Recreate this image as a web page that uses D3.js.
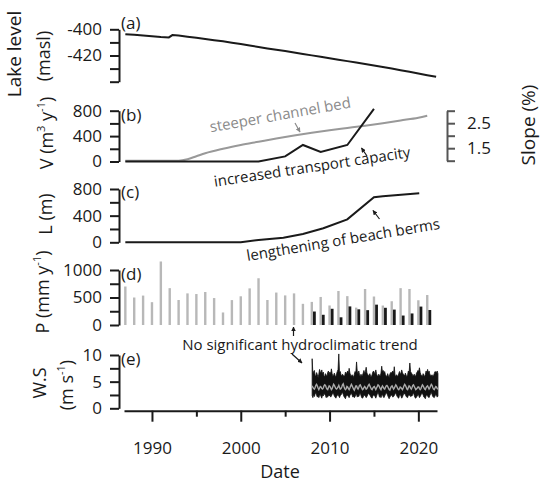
<!DOCTYPE html>
<html><head><meta charset="utf-8">
<script src="https://cdn.jsdelivr.net/npm/d3@7/dist/d3.min.js"></script>
<style>body{margin:0;background:#fff}svg{display:block}</style>
</head><body><svg id="c" width="542" height="484"></svg>
<script>
// ---------- data ----------
const lakeYears=[1987,1988,1989,1990,1991,1991.9,1992.3,1993,1994,1995,1996,1997,1998,1999,2000,2001,2002,2003,2004,2005,2006,2007,2008,2009,2010,2011,2012,2013,2014,2015,2016,2017,2018,2019,2020,2021,2022];
const lakeLevel=[-403.8,-404.2,-404.8,-405.3,-405.9,-406.2,-404.4,-404.8,-405.6,-406.5,-407.4,-408.3,-409.2,-410.2,-411.3,-412.4,-413.5,-414.6,-415.6,-416.6,-417.7,-418.8,-419.9,-421.0,-422.1,-423.2,-424.3,-425.4,-426.5,-427.6,-428.7,-430.0,-431.2,-432.4,-433.7,-435.0,-436.3];
const vYears=[1987,2002,2005,2007,2009,2012,2015];
const vValues=[0,0,80,260,150,260,830];
const slopeYears=[1987,1993,1994,1995,1996,1998,2000,2002,2004,2006,2008,2010,2012,2014,2016,2018,2020,2021];
const slopeValues=[1.0,1.0,1.06,1.18,1.3,1.48,1.63,1.76,1.89,2.01,2.12,2.22,2.31,2.4,2.5,2.61,2.72,2.8];
const lYears=[1987,2000,2002,2004.8,2007,2009.3,2012,2015,2016,2020.1];
const lValues=[0,0,35,70,125,210,345,675,690,735];
const pYears=[1987,1988,1989,1990,1991,1992,1993,1994,1995,1996,1997,1998,1999,2000,2001,2002,2003,2004,2005,2006,2007,2008,2009,2010,2011,2012,2013,2014,2015,2016,2017,2018,2019,2020,2021];
const pGray=[700,500,535,415,1155,670,455,575,563,600,490,228,453,522,666,850,455,590,538,575,385,420,510,355,618,525,316,655,518,354,432,670,655,450,545];
const pBlackYears=[2008,2009,2010,2011,2012,2013,2014,2015,2016,2017,2018,2019,2020,2021];
const pBlack=[245,186,295,140,338,285,270,370,313,280,172,210,335,273];
const wsStartYear=2008;
const wsMax=[
9.3,6.4,6.9,7.1,6.2,6.0,6.7,6.3,5.8,6.4,7.3,6.8,
6.6,7.2,6.4,6.8,6.1,5.9,6.5,6.2,6.0,6.7,7.0,6.3,
6.8,6.4,7.4,6.5,6.0,6.2,6.6,6.1,5.9,6.5,6.9,7.3,
10.2,6.6,6.9,6.3,6.0,6.4,6.2,6.0,6.1,6.8,6.5,6.7,
7.0,6.5,7.5,6.6,6.2,6.0,6.3,6.1,5.8,6.4,6.9,6.6,
8.7,6.8,6.5,7.0,6.3,5.9,6.4,6.0,6.2,6.6,7.1,6.5,
6.9,7.7,6.6,6.4,6.1,6.2,6.5,6.0,5.9,6.3,6.8,7.0,
6.7,6.4,7.2,6.5,6.0,6.1,6.4,6.2,6.0,6.6,7.9,6.8,
7.1,6.6,6.9,6.3,6.1,5.9,6.5,6.1,5.8,6.4,6.7,6.6,
6.8,7.0,6.5,7.8,6.2,6.0,6.3,6.0,6.1,6.5,6.9,6.4,
6.6,7.2,6.7,6.4,6.3,6.1,6.6,6.2,5.9,6.3,7.0,6.7,
8.5,6.9,6.6,6.5,6.0,6.2,6.4,6.1,6.0,6.6,6.8,7.1,
6.9,7.6,6.7,6.3,6.1,6.0,6.5,6.2,5.9,6.4,7.0,6.6,
7.3,6.6,7.0,6.4,6.2,6.1,6.3,6.0,6.1,6.5,6.9,6.8,
6.7,7.0,6.5];
const wsMin=[
2.4,2.0,2.6,2.2,2.7,2.9,2.5,2.1,2.3,2.0,2.4,2.6,
2.2,1.9,2.5,2.3,2.8,2.6,2.4,2.0,2.2,2.1,2.5,2.3,
2.5,2.1,2.3,2.6,2.9,2.7,2.3,2.1,1.9,2.2,2.4,2.6,
2.3,2.0,2.4,2.5,2.8,3.0,2.6,2.2,2.0,1.8,2.3,2.5,
2.4,2.2,2.0,2.4,2.7,2.8,2.5,2.1,2.3,2.0,2.2,2.6,
2.6,2.1,2.3,2.2,2.6,2.9,2.4,2.0,1.9,2.1,2.5,2.4,
2.3,2.0,2.2,2.5,2.8,2.7,2.5,2.2,2.0,1.9,2.3,2.5,
2.5,2.2,1.9,2.3,2.7,3.0,2.6,2.1,2.2,2.0,2.4,2.6,
2.2,2.0,2.3,2.6,2.9,2.8,2.4,2.1,1.8,2.1,2.3,2.5,
2.4,2.1,2.2,2.4,2.7,2.9,2.5,2.2,2.0,1.9,2.4,2.6,
2.3,1.9,2.1,2.5,2.8,2.7,2.6,2.2,2.1,2.0,2.5,2.4,
2.5,2.2,2.3,2.3,2.7,2.9,2.4,2.0,1.9,2.1,2.3,2.6,
2.4,2.0,2.2,2.5,2.8,2.8,2.5,2.1,2.0,1.8,2.4,2.5,
2.3,2.1,2.0,2.4,2.7,3.0,2.6,2.2,2.1,2.0,2.3,2.6,
2.4,2.1,2.3];
const wsMean=[
4.2,3.9,3.7,3.6,3.9,4.3,4.5,4.2,3.8,3.5,3.8,4.1,
4.0,3.7,3.6,3.8,4.2,4.4,4.3,3.9,3.6,3.5,3.9,4.2,
4.1,3.8,3.5,3.7,4.1,4.5,4.3,4.0,3.7,3.6,3.8,4.0,
4.3,3.9,3.6,3.7,4.0,4.4,4.6,4.1,3.7,3.5,3.7,4.1,
4.0,3.7,3.5,3.8,4.2,4.5,4.2,3.9,3.6,3.4,3.8,4.2,
4.2,3.8,3.6,3.9,4.3,4.4,4.1,3.8,3.5,3.6,3.9,4.1,
3.9,3.6,3.7,4.0,4.3,4.5,4.2,3.9,3.6,3.5,3.8,4.0,
4.1,3.8,3.5,3.8,4.1,4.4,4.3,4.0,3.7,3.5,3.9,4.2,
4.0,3.7,3.6,3.9,4.2,4.3,4.1,3.8,3.5,3.4,3.8,4.1,
4.2,3.9,3.6,3.8,4.1,4.4,4.2,3.9,3.6,3.5,3.7,4.0,
3.9,3.7,3.5,3.8,4.2,4.5,4.3,4.0,3.6,3.5,3.9,4.2,
4.1,3.8,3.6,3.9,4.3,4.4,4.1,3.8,3.5,3.6,3.8,4.0,
4.0,3.7,3.5,3.7,4.1,4.4,4.2,3.9,3.6,3.5,3.9,4.1,
4.2,3.9,3.6,3.8,4.2,4.5,4.3,3.9,3.6,3.5,3.8,4.1,
4.0,3.7,3.6];
const xTicks=[1990,1995,2000,2005,2010,2015,2020];
const xTickLabels=[1990,2000,2010,2020];

// ---------- drawing ----------
const svg=d3.select('#c');
const FONT='"Open Sans", sans-serif';
const INK='#1a1a1a';
const x=d3.scaleLinear().domain([1986.85,2022.1]).range([124,437]);
const yA=d3.scaleLinear().domain([-440,-400]).range([81.7,29.3]);
const yB=d3.scaleLinear().domain([0,800]).range([161.5,110.7]);
const yS=d3.scaleLinear().domain([1,3]).range([160.7,110.7]);
const yC=d3.scaleLinear().domain([0,800]).range([242.3,189]);
const yD=d3.scaleLinear().domain([0,1000]).range([325,270]);
const yE=d3.scaleLinear().domain([0,10]).range([408.3,355]);

svg.append('defs').selectAll('marker').data([['ah',INK],['ahg','#8a8a8a']]).join('marker')
  .attr('id',d=>d[0]).attr('viewBox','0 0 10 10').attr('refX',9).attr('refY',5)
  .attr('markerWidth',4).attr('markerHeight',4).attr('orient','auto')
  .append('path').attr('d','M0,0L10,5L0,10z').attr('fill',d=>d[1]);

function styleAxis(g,fs){
  g.select('.domain').attr('stroke',INK).attr('stroke-width',2);
  g.selectAll('.tick line').attr('stroke',INK).attr('stroke-width',2);
  g.selectAll('text').attr('font-family',FONT).attr('font-size',fs||17).attr('fill',INK);
}
function leftAxis(scale,ticks,labels){
  const g=svg.append('g').attr('transform','translate(119,0)')
    .call(d3.axisLeft(scale).tickValues(ticks).tickSize(9).tickPadding(8).tickSizeOuter(0)
      .tickFormat(d=>labels.includes(d)?String(d):''));
  styleAxis(g);
  g.selectAll('.tick text').filter(function(){return this.textContent==='';}).remove();
  return g;
}
leftAxis(yA,[-440,-430,-420,-410,-400],[-420,-400]);
leftAxis(yB,[0,200,400,600,800],[0,400,800]);
leftAxis(yC,[0,200,400,600,800],[0,400,800]);
leftAxis(yD,[0,250,500,750,1000],[0,500,1000]);
leftAxis(yE,[0,2.5,5,7.5,10],[0,5,10]);

// right slope axis
const gR=svg.append('g').attr('transform','translate(447,0)')
  .call(d3.axisRight(yS).tickValues([1,1.5,2,2.5,3]).tickSize(8).tickPadding(12).tickSizeOuter(0)
    .tickFormat(d=>(d===1.5||d===2.5)?d.toFixed(1):''));
styleAxis(gR);
gR.select('.domain').attr('stroke','#555');
gR.selectAll('.tick line').attr('stroke','#555');
gR.selectAll('.tick text').filter(function(){return this.textContent==='';}).remove();

// x axis
const gX=svg.append('g').attr('transform','translate(0,410.7)')
  .call(d3.axisBottom(x).tickValues(xTicks).tickSize(11).tickPadding(20).tickSizeOuter(0)
    .tickFormat(d=>xTickLabels.includes(d)?String(d):''));
styleAxis(gX,17);
gX.selectAll('.tick').filter(d=>!xTickLabels.includes(d)).select('line').attr('y2',6);
gX.selectAll('.tick text').filter(function(){return this.textContent==='';}).remove();

// panel letters
const letters=[['(a)',22],['(b)',114],['(c)',191],['(d)',273],['(e)',358]];
svg.selectAll('text.pl').data(letters).join('text').attr('class','pl')
  .attr('x',121).attr('y',d=>d[1]).attr('dominant-baseline','central')
  .attr('font-family',FONT).attr('font-size',17).attr('fill',INK).text(d=>d[0]);

// (a) lake level
svg.append('path').datum(lakeYears.map((t,i)=>[t,lakeLevel[i]]))
  .attr('d',d3.line().x(d=>x(d[0])).y(d=>yA(d[1])))
  .attr('fill','none').attr('stroke',INK).attr('stroke-width',2);

// (b) slope + V
svg.append('path').datum(slopeYears.map((t,i)=>[t,slopeValues[i]]))
  .attr('d',d3.line().x(d=>x(d[0])).y(d=>yS(d[1])).curve(d3.curveMonotoneX))
  .attr('fill','none').attr('stroke','#999').attr('stroke-width',2);
svg.append('path').datum(vYears.map((t,i)=>[t,vValues[i]]))
  .attr('d',d3.line().x(d=>x(d[0])).y(d=>yB(d[1])))
  .attr('fill','none').attr('stroke',INK).attr('stroke-width',2);

// (c) L
svg.append('path').datum(lYears.map((t,i)=>[t,lValues[i]]))
  .attr('d',d3.line().x(d=>x(d[0])).y(d=>yC(d[1])))
  .attr('fill','none').attr('stroke',INK).attr('stroke-width',2);

// (d) precipitation bars
svg.selectAll('line.pg').data(pYears).join('line').attr('class','pg')
  .attr('x1',d=>x(d)).attr('x2',d=>x(d)).attr('y1',yD(0)).attr('y2',(d,i)=>yD(pGray[i]))
  .attr('stroke','#b8b8b8').attr('stroke-width',2.4);
svg.selectAll('line.pb').data(pBlackYears).join('line').attr('class','pb')
  .attr('x1',d=>x(d)+2.6).attr('x2',d=>x(d)+2.6).attr('y1',yD(0)).attr('y2',(d,i)=>yD(pBlack[i]))
  .attr('stroke',INK).attr('stroke-width',2.8);

// (e) wind speed
const wsT=wsMax.map((v,i)=>wsStartYear+i/12+0.04);
svg.append('path').datum(wsT.map((t,i)=>[t,wsMin[i],wsMax[i]]))
  .attr('d',d3.area().x(d=>x(d[0])).y0(d=>yE(d[1])).y1(d=>yE(d[2])))
  .attr('fill','#111').attr('stroke','#111').attr('stroke-width',0.8);
svg.append('path').datum(wsT.map((t,i)=>[t,wsMean[i]]))
  .attr('d',d3.line().x(d=>x(d[0])).y(d=>yE(d[1])))
  .attr('fill','none').attr('stroke','#aaa').attr('stroke-width',1.4);

// axis titles
function vtitle(cx,cy,parts,fs){
  const t=svg.append('text').attr('transform',`translate(${cx},${cy}) rotate(-90)`)
    .attr('text-anchor','middle').attr('dominant-baseline','central')
    .attr('font-family',FONT).attr('font-size',fs||18).attr('fill',INK);
  let shift=0;
  parts.forEach(p=>{
    if(typeof p==='string'){
      const s=t.append('tspan').text(p);
      if(shift){s.attr('dy',shift);shift=0;}
    } else {
      t.append('tspan').attr('font-size',11).attr('dy',-6).text(p.sup);
      shift=6;
    }
  });
}
vtitle(14,54,['Lake level'],19);
vtitle(43,56,['(masl)'],18);
vtitle(46,133,['V (m',{sup:'3'},' y',{sup:'-1'},')'],18);
vtitle(45,214,['L (m)'],18);
vtitle(42,292,['P (mm y',{sup:'-1'},')'],18);
vtitle(39,383,['W.S'],18);
vtitle(66,385,['(m s',{sup:'-1'},')'],18);
vtitle(528,125,['Slope (%)'],19);
svg.append('text').attr('x',280).attr('y',478).attr('text-anchor','middle')
  .attr('font-family',FONT).attr('font-size',18).attr('fill',INK).text('Date');

// annotations
function note(cx,cy,ang,txt,col){
  svg.append('text').attr('transform',`translate(${cx},${cy}) rotate(${ang})`)
    .attr('text-anchor','middle').attr('dominant-baseline','central')
    .attr('font-family',FONT).attr('font-size',15).attr('fill',col).text(txt);
}
function arrow(x1,y1,x2,y2,col,m){
  svg.append('line').attr('x1',x1).attr('y1',y1).attr('x2',x2).attr('y2',y2)
    .attr('stroke',col).attr('stroke-width',1.2).attr('marker-end',`url(#${m})`);
}
note(280,114,-10,'steeper channel bed','#8a8a8a');
arrow(295,123,300,132,'#8a8a8a','ahg');
note(312,166,-8.6,'increased transport capacity',INK);
arrow(367,156,361.5,148,INK,'ah');
note(343,239,-9.5,'lengthening of beach berms',INK);
arrow(379.5,219,373,210.5,INK,'ah');
note(300,344,0,'No significant hydroclimatic trend',INK);
arrow(293.5,336,293.5,327,INK,'ah');
arrow(292,354,302,363,INK,'ah');
</script></body></html>
